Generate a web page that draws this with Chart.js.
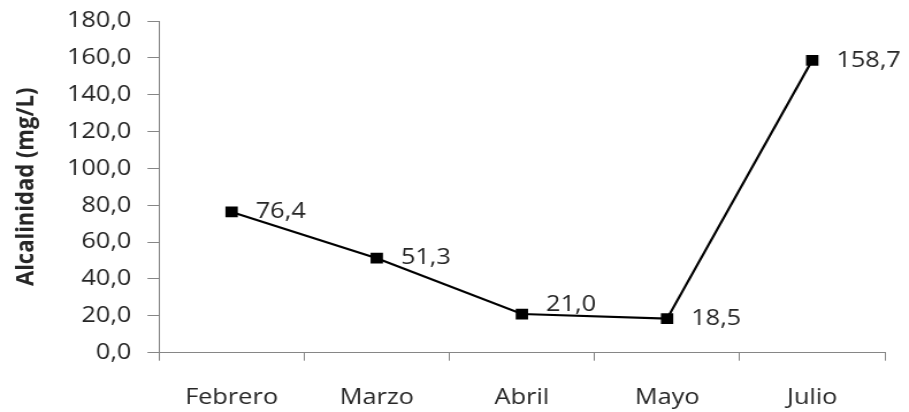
<!DOCTYPE html>
<html lang="es">
<head>
<meta charset="utf-8">
<title>Alcalinidad (mg/L)</title>
<script src="https://cdn.jsdelivr.net/npm/chart.js@4.4.1/dist/chart.umd.min.js"></script>
<style>
  html, body { margin: 0; padding: 0; background: #ffffff; overflow: hidden; }
  /* The drawing is laid out at 790px and widened to fill the 909px window. */
  #wrap {
    position: absolute; left: 0; top: 0;
    width: 790px; height: 412px;
    transform: scaleX(1.1506);
    transform-origin: 0 0;
  }
</style>
</head>
<body>
<div id="wrap"><canvas id="chart"></canvas></div>
<script>
const months = ['Febrero', 'Marzo', 'Abril', 'Mayo', 'Julio'];
const alkalinity = [76.4, 51.3, 21.0, 18.5, 158.7];
const valueLabels = ['76,4', '51,3', '21,0', '18,5', '158,7'];
const yTickLabels = ['0,0', '20,0', '40,0', '60,0', '80,0', '100,0', '120,0', '140,0', '160,0', '180,0'];

const TEXT = '#262626';
const AXIS = '#868686';
const FONT = '"Open Sans", "DejaVu Sans", sans-serif';

// Writes each value beside its marker, to the right.
const pointValues = {
  id: 'pointValues',
  afterDatasetsDraw(chart, args, opts) {
    const ctx = chart.ctx;
    const meta = chart.getDatasetMeta(0);
    ctx.save();
    ctx.font = '22px ' + FONT;
    ctx.fillStyle = TEXT;
    ctx.textAlign = 'left';
    ctx.textBaseline = 'middle';
    meta.data.forEach((pt, i) => {
      const lift = (opts.lift && opts.lift[i]) || 0;
      ctx.fillText(valueLabels[i], pt.x + 21, pt.y - lift);
    });
    ctx.restore();
  }
};

function build() {
  new Chart(document.getElementById('chart'), {
    type: 'line',
    data: {
      labels: months,
      datasets: [{
        data: alkalinity,
        borderColor: '#000000',
        borderWidth: 2.2,
        backgroundColor: '#000000',
        pointStyle: 'rect',
        pointRadius: 7.6,
        pointBorderWidth: 0,
        pointBackgroundColor: '#000000',
        tension: 0,
        fill: false
      }]
    },
    options: {
      responsive: true,
      maintainAspectRatio: false,
      animation: false,
      events: [],
      layout: { padding: { top: 21, right: 21, left: 0, bottom: 0 } },
      plugins: {
        legend: { display: false },
        tooltip: { enabled: false },
        pointValues: { lift: { 2: 9 } }
      },
      scales: {
        x: {
          offset: true,
          grid: {
            offset: true,
            drawOnChartArea: false,
            drawTicks: true,
            tickLength: 8,
            color: AXIS
          },
          border: { display: true, color: AXIS, width: 1 },
          ticks: {
            color: TEXT,
            font: { family: FONT, size: 22 },
            padding: 24,
            maxRotation: 0,
            autoSkip: false
          },
          afterFit(scale) {
            scale.height = 59.3;
            scale.paddingLeft = 0;
            scale.paddingRight = 0;
          }
        },
        y: {
          min: 0,
          max: 180,
          grid: {
            drawOnChartArea: false,
            drawTicks: true,
            tickLength: 10,
            color: AXIS
          },
          border: { display: true, color: AXIS, width: 1 },
          ticks: {
            stepSize: 20,
            color: TEXT,
            font: { family: FONT, size: 22 },
            padding: 14,
            callback: (value, index) => yTickLabels[index]
          },
          title: {
            display: true,
            text: 'Alcalinidad (mg/L)',
            color: TEXT,
            font: { family: FONT, size: 22, weight: 'bold' },
            padding: { top: 10, bottom: 0 }
          },
          afterFit(scale) {
            scale.width = 138.2;
            scale.paddingTop = 0;
            scale.paddingBottom = 0;
          }
        }
      }
    },
    plugins: [pointValues]
  });
}

if (document.fonts && document.fonts.load) {
  Promise.all([
    document.fonts.load('22px "Open Sans"'),
    document.fonts.load('bold 22px "Open Sans"')
  ]).then(build, build);
} else {
  build();
}
</script>
</body>
</html>
